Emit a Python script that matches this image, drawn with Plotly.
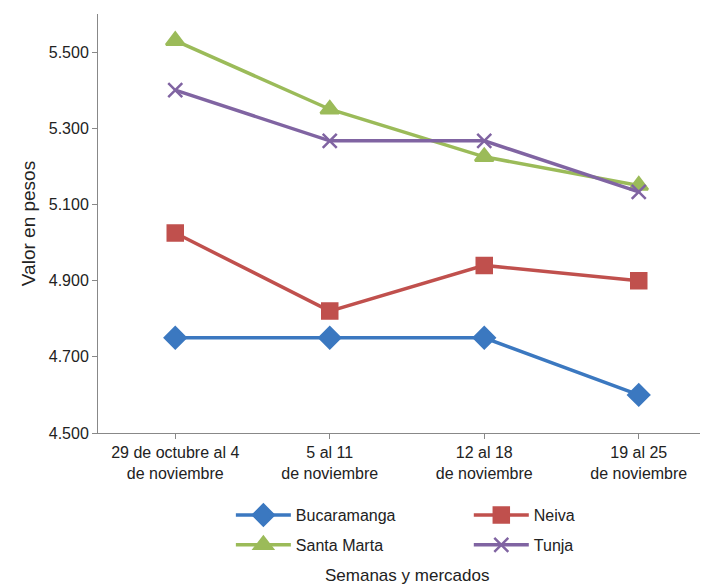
import plotly.graph_objects as go

categories = ["29 de octubre al 4<br>de noviembre", "5 al 11<br>de noviembre", "12 al 18<br>de noviembre", "19 al 25<br>de noviembre"]
bucaramanga = [4750, 4750, 4750, 4600]
neiva = [5025, 4820, 4940, 4900]
santa_marta = [5530, 5350, 5225, 5150]
tunja = [5400, 5267, 5267, 5133]

series = [
    ("Bucaramanga", bucaramanga, "#3b78c0", "diamond", 16, "legend", 0.215, -0.196),
    ("Neiva", neiva, "#c0504d", "square", 15, "legend2", 0.60, -0.196),
    ("Santa Marta", santa_marta, "#9bbb59", "triangle-up", 16, "legend3", 0.215, -0.267),
    ("Tunja", tunja, "#8064a2", "x-thin-open", 14, "legend4", 0.60, -0.267),
]

fig = go.Figure()
legends = {}
for name, vals, col, sym, sz, lg, lx, ly in series:
    fig.add_trace(go.Scatter(
        x=list(range(len(categories))), y=vals, name=name, mode="lines+markers",
        line=dict(color=col, width=3.5), legend=lg,
        marker=dict(symbol=sym, size=sz, color=col, line=dict(color=col, width=2.5)),
    ))
    legends[lg] = dict(x=lx, y=ly, xanchor="left", yanchor="middle", itemwidth=55,
                       font=dict(size=16), bgcolor="rgba(0,0,0,0)")

fig.update_layout(
    width=708, height=585, plot_bgcolor="white", paper_bgcolor="white",
    margin=dict(l=90, r=0, t=6, b=160, autoexpand=False),
    font=dict(family="Liberation Sans, Arial", size=16, color="#222"),
    separators=",.",
    showlegend=True,
    xaxis=dict(tickmode="array", tickvals=list(range(4)), ticktext=categories,
               range=[-0.5, 3.5], showline=True, linecolor="#888", ticks="outside",
               ticklen=5, tickcolor="#888", showgrid=False, automargin=False),
    yaxis=dict(range=[4500, 5600], tickvals=[4500, 4700, 4900, 5100, 5300, 5500],
               tickformat=",.0f", showline=True, linecolor="#888", ticks="outside",
               ticklen=5, tickcolor="#888", showgrid=False, automargin=False,
               title=dict(text="Valor en pesos", standoff=8)),
    **legends,
)
fig.add_annotation(text="Semanas y mercados", xref="paper", yref="paper", x=0.5, y=-0.34,
                   showarrow=False, font=dict(size=17), yanchor="middle")
fig.write_html("out.html")
